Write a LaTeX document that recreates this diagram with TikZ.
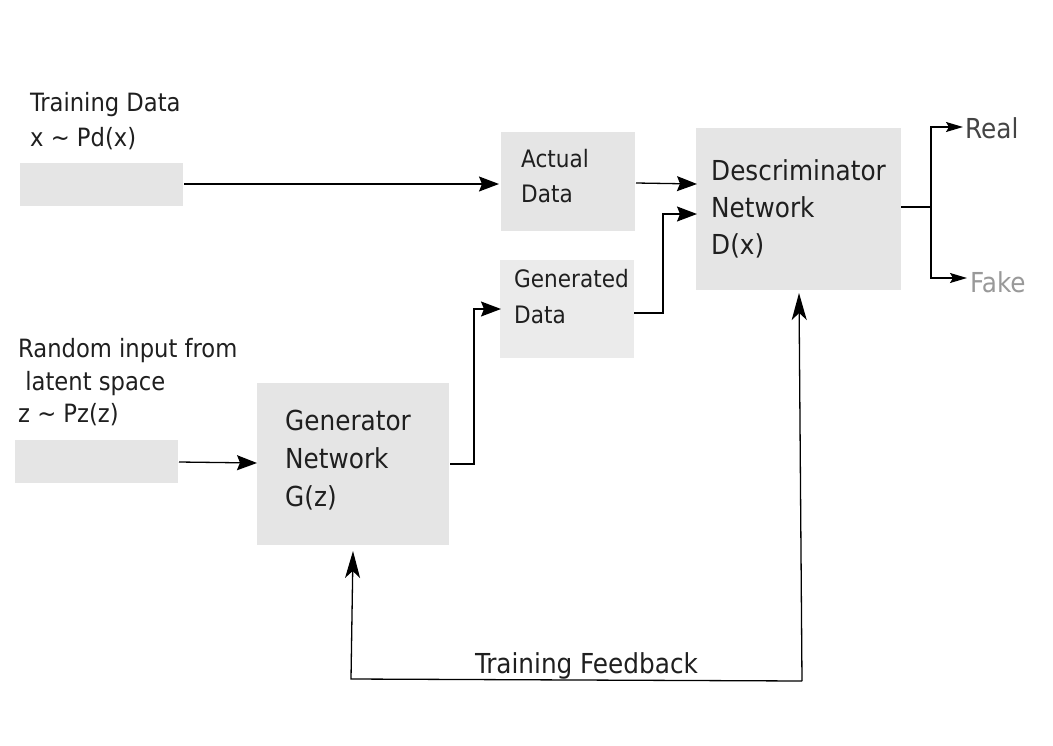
\documentclass[tikz,border=0pt]{standalone}
\usepackage{fontspec}
\setmainfont{DejaVu Sans Condensed}
\usetikzlibrary{arrows.meta}
\definecolor{boxgray}{HTML}{E5E5E5}
\definecolor{boxgrayl}{HTML}{EBEBEB}
\definecolor{realgray}{HTML}{444444}
\definecolor{fakegray}{HTML}{999999}
\begin{document}
\begin{tikzpicture}[x=1pt,y=-1pt,
  box/.style={draw=none,fill=boxgray,minimum width=#1,inner sep=0pt},
  sm/.style={anchor=base west,inner sep=0pt,font=\fontsize{24}{28}\selectfont,text=black!88},
  lb/.style={anchor=base west,inner sep=0pt,font=\fontsize{25.2}{30}\selectfont,text=black!88},
  bg/.style={anchor=base west,inner sep=0pt,font=\fontsize{27.5}{32}\selectfont,text=black!88},
  arr/.style={-{Stealth[length=20pt,width=15pt,inset=3pt]},line width=1.3pt},
  arru/.style={-{Stealth[length=27pt,width=15pt,inset=7pt]},line width=1.3pt},
  arrs/.style={-{Stealth[length=17pt,width=10pt,inset=3pt]},line width=1.3pt},
  ln/.style={line width=1.3pt}]
\useasboundingbox (0,0) rectangle (1053,745);
% boxes
\node[box=163pt,minimum height=43pt] (tin) at (101.5,184.5) {};
\node[box=134pt,minimum height=99pt] (act) at (568,181.5) {};
\node[box=205pt,minimum height=162pt] (dis) at (798.5,209) {};
\node[box=134pt,minimum height=98pt,fill=boxgrayl] (gen) at (567,309) {};
\node[box=163pt,minimum height=43pt] (rin) at (96.5,461.5) {};
\node[box=192pt,minimum height=162pt] (gnet) at (353,464) {};
% texts
\node[lb] (t1) at (30,111) {Training Data};
\node[lb] (t2) at (30,146) {x \textasciitilde{} Pd(x)};
\node[sm] (a1) at (521,167) {Actual};
\node[sm] (a2) at (521,202) {Data};
\node[bg] (d1) at (711,180) {Descriminator};
\node[bg] (d2) at (711,217) {Network};
\node[bg] (d3) at (711,254) {D(x)};
\node[sm] (g1) at (514,287) {Generated};
\node[sm] (g2) at (514,323) {Data};
\node[lb] (r1) at (18,357) {Random input from};
\node[lb] (r2) at (18,390) {\ latent space};
\node[lb] (r3) at (18,422) {z \textasciitilde{} Pz(z)};
\node[bg] (n1) at (285,430) {Generator};
\node[bg] (n2) at (285,468) {Network};
\node[bg] (n3) at (285,506) {G(z)};
\node[bg] (fb) at (475,673) {Training Feedback};
\node[bg,text=realgray] (real) at (965,138) {Real};
\node[bg,text=fakegray] (fake) at (970,292) {Fake};
% coordinates
\coordinate (s1) at (184,184);
\coordinate (e1) at (499,184);
\coordinate (s2) at (636,183);
\coordinate (e2) at (697,184);
\coordinate (s3) at (634,313);
\coordinate (m3) at (663,313);
\coordinate (e3) at (697,214);
\coordinate (s4) at (179,462);
\coordinate (e4) at (257,463);
\coordinate (s5) at (450,464);
\coordinate (m5) at (474,464);
\coordinate (e5) at (501,309);
\coordinate (s6) at (901,207);
\coordinate (m6) at (931,207);
\coordinate (e6) at (963,127);
\coordinate (e7) at (967,278);
\coordinate (f1) at (802,681);
\coordinate (f0) at (351,679);
\coordinate (fe) at (353,551);
\coordinate (de) at (799,293);
% connectors
\draw[arr] (s1) -- (e1);
\draw[arr] (s2) -- (e2);
\draw[arr] (s3) -- (m3) |- (e3);
\draw[arr] (s4) -- (e4);
\draw[arr] (s5) -- (m5) |- (e5);
\draw[ln] (s6) -- (m6);
\draw[arrs] (m6) |- (e6);
\draw[arrs] (m6) |- (e7);
\draw[arru] (f1) -- (de);
\draw[arru] (f1) -- (f0) -- (fe);
\end{tikzpicture}
\end{document}
